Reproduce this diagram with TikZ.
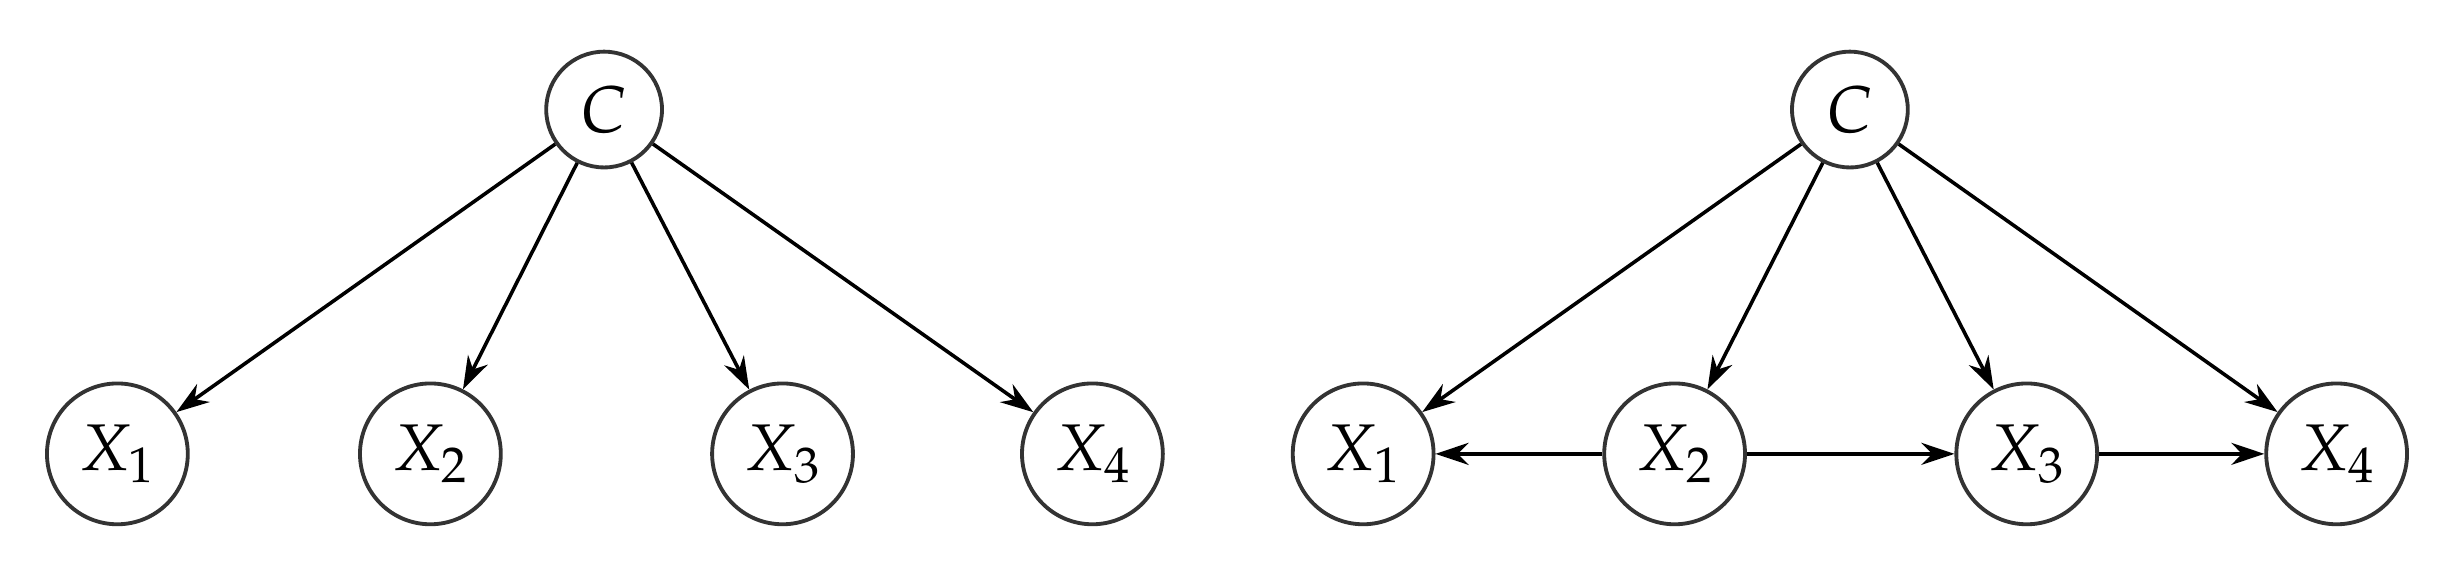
\documentclass[tikz,border=0pt]{standalone}
\usepackage{mathpazo}
\usetikzlibrary{arrows.meta}
\begin{document}
\begin{tikzpicture}[x=0.02cm,y=-0.02cm,
  cnode/.style={circle,draw=black!80,line width=1.4pt,minimum size=1.48cm,inner sep=0pt,font=\fontsize{24}{28}\selectfont},
  xnode/.style={circle,draw=black!80,line width=1.4pt,minimum size=1.8cm,inner sep=0pt,font=\fontsize{24}{28}\selectfont},
  arr/.style={line width=1.3pt,-{Stealth[length=12pt,width=8pt]}}]
\useasboundingbox (0,0) rectangle (1568,364);
\node[cnode] (c) at (386,70) {$C$};
\node[xnode] (a1) at (75,290) {$X_1$};
\node[xnode] (a2) at (275,290) {$X_2$};
\node[xnode] (a3) at (500,290) {$X_3$};
\node[xnode] (a4) at (698,290) {$X_4$};
\foreach \i in {1,...,4} \draw[arr] (c) -- (a\i);
\node[cnode] (d) at (1182,70) {$C$};
\node[xnode] (b1) at (871,290) {$X_1$};
\node[xnode] (b2) at (1070,290) {$X_2$};
\node[xnode] (b3) at (1295,290) {$X_3$};
\node[xnode] (b4) at (1493,290) {$X_4$};
\foreach \i in {1,...,4} \draw[arr] (d) -- (b\i);
\draw[arr] (b2) -- (b1);
\draw[arr] (b2) -- (b3);
\draw[arr] (b3) -- (b4);
\end{tikzpicture}
\end{document}
